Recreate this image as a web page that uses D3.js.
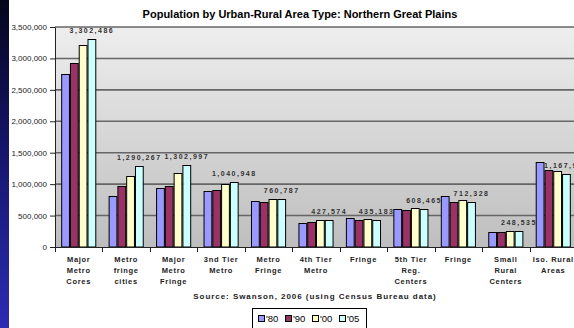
<!DOCTYPE html>
<html>
<head>
<meta charset="utf-8">
<script src="https://cdn.jsdelivr.net/npm/d3@7"></script>
<style>
  body { margin: 0; background: #fff; overflow: hidden; }
  svg { display: block; font-family: "Liberation Sans", Arial, sans-serif; }
</style>
</head>
<body>
<svg id="chart"></svg>
<script>
// categories (lines of each axis label)
const categories = [
  ["Major", "Metro", "Cores"],
  ["Metro", "fringe", "cities"],
  ["Major", "Metro", "Fringe"],
  ["3nd Tier", "Metro"],
  ["Metro", "Fringe"],
  ["4th Tier", "Metro"],
  ["Fringe"],
  ["5th Tier", "Reg.", "Centers"],
  ["Fringe"],
  ["Small", "Rural", "Centers"],
  ["Iso. Rural", "Areas"]
]
const years = ["'80", "'90", "'00", "'05"]
const pop80 = [2759000, 815000, 946000, 887000, 726000, 387000, 468000, 597000, 806000, 242000, 1355000]
const pop90 = [2934000, 978000, 978000, 903000, 710000, 403000, 430000, 581000, 720000, 242000, 1231000]
const pop00 = [3220000, 1135000, 1174000, 995000, 758000, 425000, 452000, 613000, 742000, 258000, 1215000]
const pop05 = [3302486, 1290267, 1302997, 1040948, 760787, 427574, 435183, 608465, 712328, 248535, 1167962]
const yTicks = [0, 500000, 1000000, 1500000, 2000000, 2500000, 3000000, 3500000]
const colors = ["#9999ff", "#993366", "#ffffcc", "#ccffff"]

const series = [pop80, pop90, pop00, pop05]

var width = 574, height = 328
var plot = {left: 55, right: 577, top: 27, bottom: 247}

var svg = d3.select("#chart")
    .attr("width", width)
    .attr("height", height)

var defs = svg.append("defs")

var side = defs.append("linearGradient")
    .attr("id", "side").attr("x1", 0).attr("y1", 0).attr("x2", 0).attr("y2", 1)
side.append("stop").attr("offset", "0%").attr("stop-color", "#05051c")
side.append("stop").attr("offset", "45%").attr("stop-color", "#15156a")
side.append("stop").attr("offset", "100%").attr("stop-color", "#2c2cb4")

var bg = defs.append("linearGradient")
    .attr("id", "plotbg").attr("x1", 0).attr("y1", 0).attr("x2", 0).attr("y2", 1)
bg.append("stop").attr("offset", "0%").attr("stop-color", "#eeeeee")
bg.append("stop").attr("offset", "100%").attr("stop-color", "#bebebe")

// blue strip at the left edge
svg.append("rect")
    .attr("x", 0).attr("y", 0)
    .attr("width", 9).attr("height", height)
    .attr("fill", "url(#side)")

var x = d3.scaleBand()
    .domain(d3.range(categories.length))
    .range([plot.left, plot.right])
    .paddingInner(0.26)
    .paddingOuter(0.13)

var xs = d3.scaleBand()
    .domain(d3.range(years.length))
    .range([0, x.bandwidth()])

var y = d3.scaleLinear()
    .domain([0, 3500000])
    .range([plot.bottom, plot.top])

// plot background
svg.append("rect")
    .attr("x", plot.left).attr("y", plot.top)
    .attr("width", plot.right - plot.left)
    .attr("height", plot.bottom - plot.top)
    .attr("fill", "url(#plotbg)")

// gridlines
svg.append("g")
    .selectAll("line")
    .data(yTicks.slice(1))
    .join("line")
      .attr("x1", plot.left).attr("x2", plot.right)
      .attr("y1", d => y(d)).attr("y2", d => y(d))
      .attr("stroke", "#666")
      .attr("stroke-width", 1.6)

// bars
var groups = svg.append("g")
    .selectAll("g")
    .data(categories.map((c, i) => i))
    .join("g")
      .attr("transform", i => `translate(${x(i)},0)`)

groups.selectAll("rect")
    .data(i => series.map((s, j) => ({j: j, v: s[i]})))
    .join("rect")
      .attr("x", d => xs(d.j) + 0.5)
      .attr("y", d => Math.round(y(d.v)) + 0.5)
      .attr("width", xs.bandwidth() - 1)
      .attr("height", d => plot.bottom - Math.round(y(d.v)) - 0.5)
      .attr("fill", d => colors[d.j])
      .attr("stroke", "#000")
      .attr("stroke-width", 1)

// value labels over the '05 bars
groups.append("text")
    .attr("x", xs(3) + xs.bandwidth() / 2)
    .attr("y", i => y(pop05[i]) - 6)
    .attr("text-anchor", "middle")
    .style("font-size", "7px")
    .style("font-weight", "bold")
    .style("letter-spacing", "1.5px")
    .style("fill", "#333")
    .text(i => d3.format(",")(pop05[i]))

// y axis
var yAxis = svg.append("g")
    .attr("transform", `translate(${plot.left},0)`)
    .call(d3.axisLeft(y).tickValues(yTicks).tickFormat(d3.format(",")).tickSize(5).tickSizeOuter(0))
yAxis.select(".domain").attr("stroke", "#222")
yAxis.selectAll(".tick line").attr("stroke", "#222")
yAxis.selectAll("text")
    .attr("x", -8)
    .style("font-size", "8px")
    .style("font-family", "Liberation Sans, Arial, sans-serif")
    .attr("fill", "#222")

// x axis with ticks at category boundaries
var bounds = d3.range(categories.length + 1).map(i => plot.left + i * x.step())
svg.append("line")
    .attr("x1", plot.left).attr("x2", plot.right)
    .attr("y1", plot.bottom + 0.5).attr("y2", plot.bottom + 0.5)
    .attr("stroke", "#222")
svg.append("g")
    .selectAll("line")
    .data(bounds)
    .join("line")
      .attr("x1", d => Math.round(d) + 0.5).attr("x2", d => Math.round(d) + 0.5)
      .attr("y1", plot.bottom).attr("y2", plot.bottom + 5)
      .attr("stroke", "#222")

var catLabels = svg.append("g")
    .selectAll("text")
    .data(categories)
    .join("text")
      .attr("text-anchor", "middle")
      .style("font-size", "7.5px")
      .style("font-weight", "bold")
      .style("letter-spacing", "0.7px")
      .style("fill", "#222")
catLabels.selectAll("tspan")
    .data((c, i) => c.map(line => ({line: line, i: i})))
    .join("tspan")
      .attr("x", d => x(d.i) + x.bandwidth() / 2)
      .attr("y", (d, k) => 262 + k * 10.8)
      .text(d => d.line)

// title
svg.append("text")
    .attr("x", 300).attr("y", 18)
    .attr("text-anchor", "middle")
    .style("font-size", "11px")
    .style("font-weight", "bold")
    .style("fill", "#000")
    .text("Population by Urban-Rural Area Type: Northern Great Plains")

// source note
svg.append("text")
    .attr("x", 315).attr("y", 299)
    .attr("text-anchor", "middle")
    .style("font-size", "8px")
    .style("font-weight", "bold")
    .style("letter-spacing", "0.95px")
    .style("fill", "#222")
    .text("Source: Swanson, 2006 (using Census Bureau data)")

// legend
var legend = svg.append("g").attr("transform", "translate(252,308)")
legend.append("rect")
    .attr("x", 0.5).attr("y", 0.5)
    .attr("width", 114).attr("height", 30)
    .attr("fill", "#fff")
    .attr("stroke", "#000")
var items = legend.selectAll("g.item")
    .data(years)
    .join("g")
      .attr("class", "item")
      .attr("transform", (d, i) => `translate(${6 + i * 27},7)`)
items.append("rect")
    .attr("x", 0.5).attr("y", 0.5)
    .attr("width", 6).attr("height", 6)
    .attr("fill", (d, i) => colors[i])
    .attr("stroke", "#000")
items.append("text")
    .attr("x", 8).attr("y", 7)
    .style("font-size", "9.5px")
    .style("fill", "#000")
    .text(d => d)
</script>
</body>
</html>
